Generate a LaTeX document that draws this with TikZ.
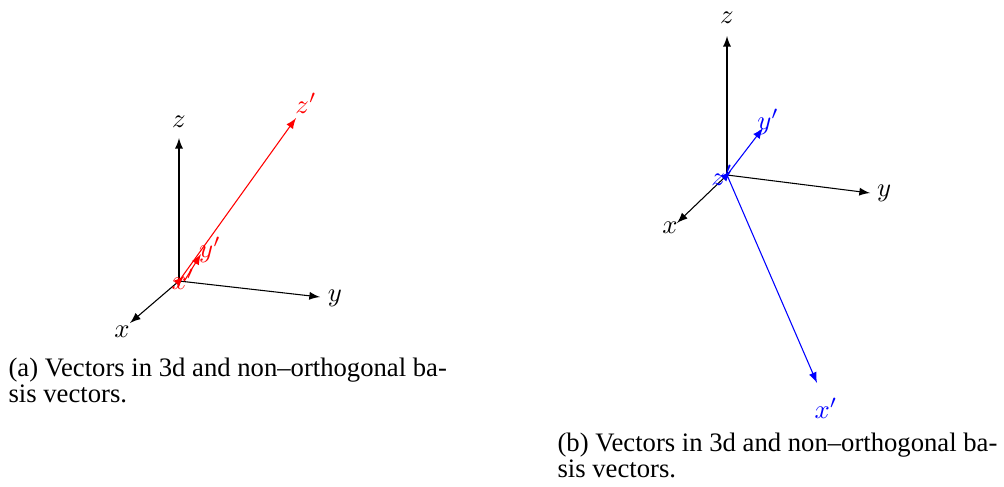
\documentclass[tikz,border=0pt]{standalone}
\usepackage{fontspec}
\setmainfont{Liberation Serif}
\usetikzlibrary{arrows}

\begin{document}
\begin{tikzpicture}[x=0.375pt,y=-0.375pt,>=latex]
\useasboundingbox (0,0) rectangle (1004,486);
% (a) axes and red vectors
\coordinate (Oa) at (179,281);
\coordinate (xa) at (130,323);
\coordinate (ya) at (320,297);
\coordinate (za) at (179,138);
\coordinate (xpa) at (184,276);
\coordinate (ypa) at (201,254);
\coordinate (zpa) at (296,118);
\draw[->] (Oa) -- (za);
\draw[->] (Oa) -- (ya);
\draw[->] (Oa) -- (xa);
\draw[->,red] (Oa) -- (zpa);
\draw[->,red] ([xshift=2]Oa) -- (ypa);
\draw[->,red] (Oa) -- (xpa);
\node (lxa) at (122,332) {$x$};
\node (lya) at (335,298) {$y$};
\node (lza) at (179,122) {$z$};
\node[red] (lxpa) at (183,279) {$x'$};
\node[red] (lypa) at (210,250) {$y'$};
\node[red] (lzpa) at (306,103) {$z'$};
% (b) axes and blue vectors
\coordinate (Ob) at (727,175);
\coordinate (xb) at (677,223);
\coordinate (yb) at (870,193);
\coordinate (zb) at (727,36);
\coordinate (xpb) at (817,383);
\coordinate (ypb) at (763,128);
\coordinate (zpb) at (731,171);
\draw[->] (Ob) -- (zb);
\draw[->] (Ob) -- (yb);
\draw[->] (Ob) -- (xb);
\draw[->,blue] (Ob) -- (xpb);
\draw[->,blue] (Ob) -- (ypb);
\draw[->,blue] (Ob) -- (zpb);
\node (lxb) at (670,228) {$x$};
\node (lyb) at (884,193) {$y$};
\node (lzb) at (727,18) {$z$};
\node[blue] (lxpb) at (826,408) {$x'$};
\node[blue] (lypb) at (768,122) {$y'$};
\node[blue] (lzpb) at (722,175) {$z'$};
% captions
\node[anchor=base west,inner sep=0] (capa1) at (8,376) {(a) Vectors in 3d and non--orthogonal ba-};
\node[anchor=base west,inner sep=0] (capa2) at (8,402) {sis vectors.};
\node[anchor=base west,inner sep=0] (capb1) at (557,451) {(b) Vectors in 3d and non--orthogonal ba-};
\node[anchor=base west,inner sep=0] (capb2) at (557,477) {sis vectors.};
\end{tikzpicture}
\end{document}
